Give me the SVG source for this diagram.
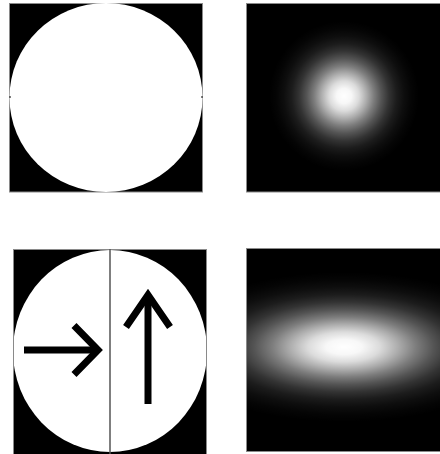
<svg xmlns="http://www.w3.org/2000/svg" width="440" height="454" viewBox="0 0 440 454">
  <defs>
    <style>
      .frame { fill: #000; stroke: #8a8a8a; stroke-width: 1; }
      .arrow { fill: none; stroke: #000; stroke-width: 7; stroke-linejoin: miter; stroke-linecap: butt; }
    </style>
    <radialGradient id="gauss" cx="0.5" cy="0.5" r="0.5">
      <stop offset="0" stop-color="#fff" stop-opacity="1"/>
      <stop offset="0.1" stop-color="#fff" stop-opacity="0.97"/>
      <stop offset="0.2" stop-color="#fff" stop-opacity="0.86"/>
      <stop offset="0.3" stop-color="#fff" stop-opacity="0.68"/>
      <stop offset="0.4" stop-color="#fff" stop-opacity="0.49"/>
      <stop offset="0.5" stop-color="#fff" stop-opacity="0.33"/>
      <stop offset="0.6" stop-color="#fff" stop-opacity="0.2"/>
      <stop offset="0.7" stop-color="#fff" stop-opacity="0.11"/>
      <stop offset="0.8" stop-color="#fff" stop-opacity="0.055"/>
      <stop offset="0.9" stop-color="#fff" stop-opacity="0.02"/>
      <stop offset="1" stop-color="#fff" stop-opacity="0"/>
    </radialGradient>
    <clipPath id="clip3"><rect x="14" y="250" width="192" height="204"/></clipPath>
    <clipPath id="clip4"><rect x="247" y="249" width="193" height="202"/></clipPath>
  </defs>

  <rect x="0" y="0" width="440" height="454" fill="#fff"/>

  <g id="aperture-circle">
    <rect class="frame" x="9.5" y="3.5" width="193" height="188.5"/>
    <ellipse cx="106" cy="97.5" rx="96.5" ry="94.5" fill="#fff"/>
    <line x1="9" y1="97" x2="11" y2="97" stroke="#000" stroke-width="1"/>
    <line x1="201" y1="97" x2="203" y2="97" stroke="#000" stroke-width="1"/>
  </g>

  <g id="psf-round">
    <rect class="frame" x="246.5" y="3.5" width="195" height="188.5"/>
    <ellipse cx="344" cy="96" rx="75" ry="75" fill="url(#gauss)"/>
  </g>

  <g id="aperture-split">
    <rect class="frame" x="13.5" y="249.5" width="193" height="206"/>
    <ellipse cx="110" cy="351" rx="97" ry="101" fill="#fff" clip-path="url(#clip3)"/>
    <line x1="110" y1="249" x2="110" y2="454" stroke="#555" stroke-width="1.5"/>
    <line class="arrow" x1="24" y1="350" x2="96" y2="350"/>
    <polyline class="arrow" points="74,325.5 98,350 74,374.5"/>
    <line class="arrow" x1="148" y1="404" x2="148" y2="297"/>
    <polyline class="arrow" points="126,327 148,295 170,327"/>
  </g>

  <g id="psf-elongated">
    <rect class="frame" x="246.5" y="248.5" width="195" height="203"/>
    <ellipse cx="344" cy="347" rx="180" ry="75" fill="url(#gauss)" clip-path="url(#clip4)"/>
  </g>
</svg>
